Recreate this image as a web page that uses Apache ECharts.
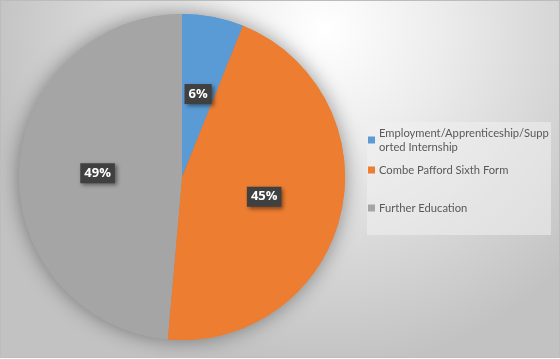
<!DOCTYPE html>
<html>
<head>
<meta charset="utf-8">
<script src="https://cdn.jsdelivr.net/npm/echarts@6/dist/echarts.min.js"></script>
<style>
html,body{margin:0;padding:0;background:#ffffff;}
#chart{width:558px;height:356px;border:1px solid #bcbcbc;}
</style>
</head>
<body>
<div id="chart"></div>
<script>
var categories = ['Employment/Apprenticeship/Supported Internship', 'Combe Pafford Sixth Form', 'Further Education'];
var legendLabels = ['Employment/Apprenticeship/Supp\norted Internship', 'Combe Pafford Sixth Form', 'Further Education'];
var values = [6.1, 45.3, 48.6];
var percentLabels = ['6%', '45%', '49%'];
var colors = ['#5b9bd5', '#ed7d31', '#a5a5a5'];

var chart = echarts.init(document.getElementById('chart'), null, {renderer: 'canvas'});
var data = categories.map(function (c, i) {
  return {name: c, value: values[i], itemStyle: {color: colors[i]}};
});
var legendTops = [125, 162, 200];
var legends = categories.map(function (c, i) {
  return {
    data: [c],
    left: 367,
    top: legendTops[i],
    padding: 0,
    orient: 'vertical',
    icon: 'rect',
    itemWidth: 7,
    itemHeight: 7,
    itemGap: 4,
    selectedMode: false,
    formatter: function () { return legendLabels[i]; },
    textStyle: {color: '#595959', fontSize: 11.2, fontFamily: 'Lato', lineHeight: 14, padding: [0, 0, 0, -1]}
  };
});
chart.setOption({
  animation: false,
  backgroundColor: {
    type: 'radial', x: 0.58, y: 0.08, r: 0.95,
    colorStops: [
      {offset: 0, color: '#ffffff'},
      {offset: 0.35, color: '#ececec'},
      {offset: 1, color: '#c2c2c2'}
    ]
  },
  graphic: [{
    type: 'rect', left: 366, top: 121, z: 0,
    shape: {width: 184, height: 113},
    style: {fill: 'rgba(240,240,240,0.55)'}
  }],
  legend: legends,
  series: [{
    type: 'pie',
    silent: true,
    z: 1,
    center: [181, 176],
    radius: 163,
    data: data,
    label: {show: false},
    labelLine: {show: false},
    itemStyle: {shadowBlur: 20, shadowColor: 'rgba(0,0,0,0.4)', borderWidth: 0}
  }, {
    type: 'pie',
    z: 2,
    center: [181, 176],
    radius: 163,
    startAngle: 90,
    data: data,
    label: {
      show: true,
      position: 'inside',
      formatter: function (p) { return percentLabels[p.dataIndex]; },
      color: '#ffffff',
      fontWeight: 'bold',
      fontSize: 13,
      fontFamily: 'Open Sans',
      backgroundColor: '#404040',
      padding: [4, 4, 3, 4],
      shadowColor: 'rgba(0,0,0,0.45)',
      shadowBlur: 4,
      shadowOffsetX: 2,
      shadowOffsetY: 2
    },
    labelLine: {show: false},
    itemStyle: {borderWidth: 0}
  }]
});
</script>
</body>
</html>
